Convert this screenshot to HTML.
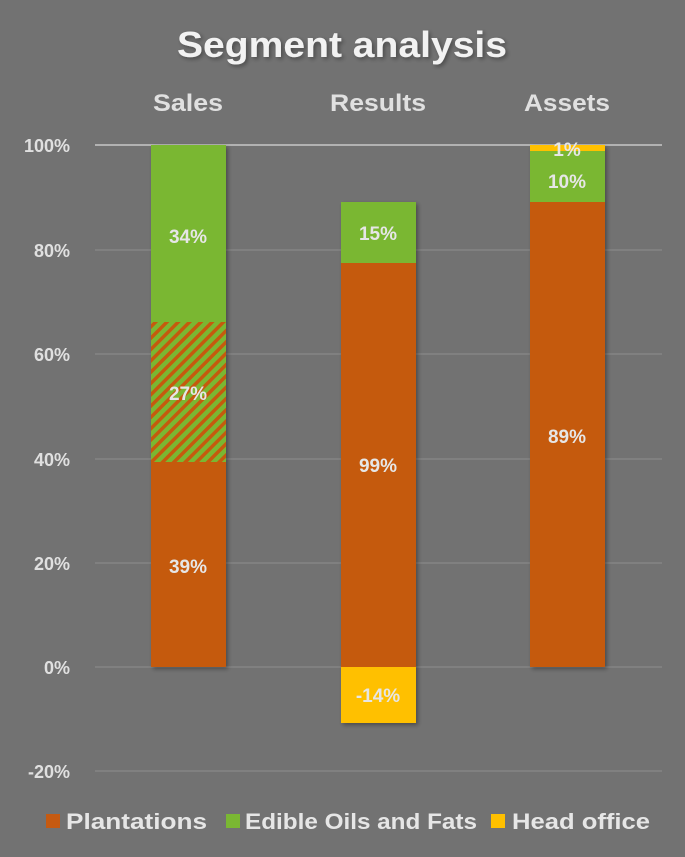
<!DOCTYPE html>
<html><head><meta charset="utf-8"><style>
body{margin:0;background:#727272;}
svg{display:block;font-family:"Liberation Sans",sans-serif;font-weight:bold;}
</style></head><body>
<svg width="685" height="857" viewBox="0 0 685 857">
<defs>
<pattern id="h" width="8" height="8" patternUnits="userSpaceOnUse" patternTransform="rotate(45)">
<rect width="8" height="8" fill="#7AB733"/><rect width="3.5" height="8" fill="#C55A11"/>
</pattern>
<filter id="s" x="-20%" y="-20%" width="140%" height="140%"><feDropShadow dx="2" dy="2" stdDeviation="2" flood-color="#000" flood-opacity="0.35"/></filter>
</defs>
<rect width="685" height="857" fill="#727272"/>
<text x="342" y="57" text-anchor="middle" font-size="36" fill="#f2f2f2" textLength="330" lengthAdjust="spacingAndGlyphs" filter="url(#s)">Segment analysis</text>
<g font-size="24" fill="#e0e0e0" text-anchor="middle">
<text x="188" y="111" textLength="70" lengthAdjust="spacingAndGlyphs">Sales</text>
<text x="378" y="111" textLength="96" lengthAdjust="spacingAndGlyphs">Results</text>
<text x="567" y="111" textLength="86" lengthAdjust="spacingAndGlyphs">Assets</text>
</g>
<g stroke="#888" stroke-width="1.2">
<line x1="95" x2="662" y1="250" y2="250"/><line x1="95" x2="662" y1="354" y2="354"/>
<line x1="95" x2="662" y1="459" y2="459"/><line x1="95" x2="662" y1="563" y2="563"/>
<line x1="95" x2="662" y1="667" y2="667"/><line x1="95" x2="662" y1="771" y2="771"/>
</g>
<line x1="95" x2="662" y1="145" y2="145" stroke="#c8c8c8" stroke-width="1.5"/>
<g font-size="18" fill="#e0e0e0" text-anchor="end">
<text x="70" y="152">100%</text><text x="70" y="257">80%</text><text x="70" y="361">60%</text>
<text x="70" y="466">40%</text><text x="70" y="570">20%</text><text x="70" y="674">0%</text><text x="70" y="778">-20%</text>
</g>
<g filter="url(#s)">
<rect x="151" y="462" width="75" height="205" fill="#C55A11"/>
<rect x="151" y="322" width="75" height="140" fill="url(#h)"/>
<rect x="151" y="145" width="75" height="177" fill="#7AB733"/>
<rect x="341" y="263" width="75" height="404" fill="#C55A11"/>
<rect x="341" y="202" width="75" height="61" fill="#7AB733"/>
<rect x="341" y="667" width="75" height="56" fill="#FFC000"/>
<rect x="530" y="202" width="75" height="465" fill="#C55A11"/>
<rect x="530" y="151" width="75" height="51" fill="#7AB733"/>
<rect x="530" y="145" width="75" height="6" fill="#FFC000"/>
</g>
<g font-size="19" fill="#e6e6e6" text-anchor="middle">
<text x="188" y="243">34%</text><text x="188" y="400">27%</text><text x="188" y="573">39%</text>
<text x="378" y="240">15%</text><text x="378" y="472">99%</text><text x="378" y="702">-14%</text>
<text x="567" y="156">1%</text><text x="567" y="188">10%</text><text x="567" y="443">89%</text>
</g>
<rect x="46" y="814" width="14" height="14" fill="#C55A11"/>
<rect x="226" y="814" width="14" height="14" fill="#7AB733"/>
<rect x="491" y="814" width="14" height="14" fill="#FFC000"/>
<g font-size="22" fill="#e6e6e6">
<text x="66" y="829" textLength="141" lengthAdjust="spacingAndGlyphs">Plantations</text>
<text x="245" y="829" textLength="232" lengthAdjust="spacingAndGlyphs">Edible Oils and Fats</text>
<text x="512" y="829" textLength="138" lengthAdjust="spacingAndGlyphs">Head office</text>
</g>
</svg>
</body></html>
